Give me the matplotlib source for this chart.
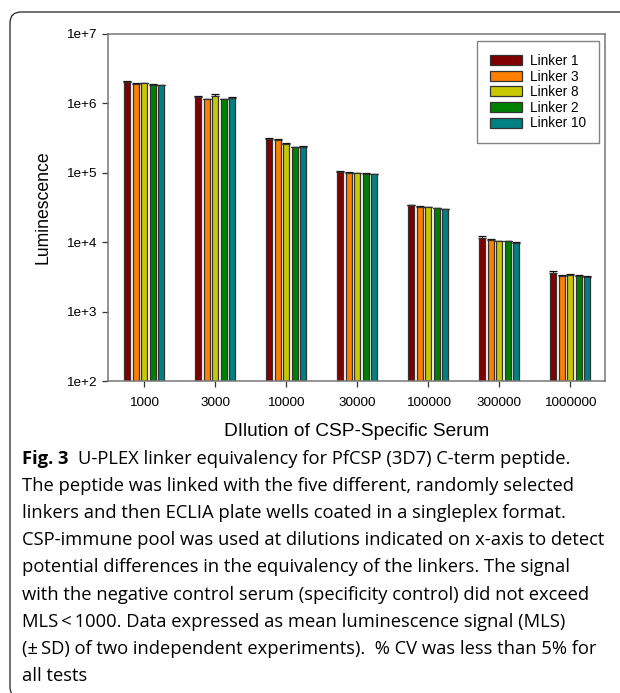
import matplotlib
matplotlib.use("Agg")
import matplotlib.pyplot as plt
import numpy as np
from matplotlib.patches import FancyBboxPatch

# ---------------- data ----------------
categories = ["1000", "3000", "10000", "30000", "100000", "300000", "1000000"]
series_names = ["Linker 1", "Linker 3", "Linker 8", "Linker 2", "Linker 10"]
linker1 = [2.03e6, 1.22e6, 3.06e5, 1.03e5, 3.41e4, 1.15e4, 3.6e3]
linker3 = [1.92e6, 1.14e6, 3.00e5, 1.00e5, 3.23e4, 1.09e4, 3.3e3]
linker8 = [1.95e6, 1.29e6, 2.60e5, 0.98e5, 3.17e4, 1.03e4, 3.4e3]
linker2 = [1.86e6, 1.14e6, 2.32e5, 0.97e5, 3.07e4, 1.03e4, 3.3e3]
linker10 = [1.82e6, 1.21e6, 2.37e5, 0.95e5, 3.00e4, 0.99e4, 3.2e3]
sd1 = [0.05e6, 0.04e6, 0.08e5, 0.02e5, 0.06e4, 0.06e4, 0.25e3]
sd3 = [0.04e6, 0.02e6, 0.08e5, 0.02e5, 0.04e4, 0.03e4, 0.10e3]
sd8 = [0.04e6, 0.07e6, 0.06e5, 0.02e5, 0.03e4, 0.02e4, 0.10e3]
sd2 = [0.03e6, 0.02e6, 0.04e5, 0.02e5, 0.03e4, 0.02e4, 0.08e3]
sd10 = [0.03e6, 0.03e6, 0.05e5, 0.02e5, 0.03e4, 0.02e4, 0.08e3]
ytick_vals = [1e2, 1e3, 1e4, 1e5, 1e6, 1e7]
ytick_labels = ["1e+2", "1e+3", "1e+4", "1e+5", "1e+6", "1e+7"]
xlabel = "DIlution of CSP-Specific Serum"
ylabel = "Luminescence"
caption_bold = "Fig. 3"
caption_lines = [
    "U-PLEX linker equivalency for PfCSP (3D7) C-term peptide.",
    "The peptide was linked with the five different, randomly selected",
    "linkers and then ECLIA plate wells coated in a singleplex format.",
    "CSP-immune pool was used at dilutions indicated on x-axis to detect",
    "potential differences in the equivalency of the linkers. The signal",
    "with the negative control serum (specificity control) did not exceed",
    "MLS\u2009<\u20091000. Data expressed as mean luminescence signal (MLS)",
    "(\u00b1\u2009SD) of two independent experiments).  % CV was less than 5% for",
    "all tests",
]

colors = ["#800000", "#FF8000", "#C8C800", "#008000", "#008080"]
values = [linker1, linker3, linker8, linker2, linker10]
sds = [sd1, sd3, sd8, sd2, sd10]

W, H = 620, 693
fig = plt.figure(figsize=(W / 100, H / 100), dpi=100)
plt.rcParams['font.family'] = ['Liberation Sans', 'DejaVu Sans']

# frame with rounded corners (partially outside the canvas on right/bottom)
frame = FancyBboxPatch((0.10, -0.05), 7.0, 6.81 + 0.05,
                       boxstyle="round,pad=0,rounding_size=0.11",
                       transform=fig.dpi_scale_trans, facecolor="none",
                       edgecolor="#222222", linewidth=0.9, clip_on=False)
fig.patches.append(frame)

ax = fig.add_axes([108 / W, 1 - 381 / H, 497 / W, 347 / H])
x = np.arange(len(categories))
bw = 0.083
step = 0.12
for i, (vals, sd, c, name) in enumerate(zip(values, sds, colors, series_names)):
    pos = x + (i - 2) * step
    ax.errorbar(pos, vals, yerr=[np.zeros(len(sd)), sd], fmt="none",
                ecolor="#111111", elinewidth=0.8, capsize=3.0, capthick=0.9,
                zorder=1)
    ax.bar(pos, vals, width=bw, color=c, edgecolor="#333333", linewidth=0.9,
           label=name, zorder=2)

ax.set_yscale("log")
ax.set_ylim(1e2, 1e7)
ax.set_xlim(-0.51, 6.49)
ax.set_yticks(ytick_vals)
ax.set_yticklabels(ytick_labels)
ax.yaxis.set_minor_locator(matplotlib.ticker.NullLocator())
ax.set_xticks(x)
ax.set_xticklabels(categories)
ax.tick_params(axis="both", direction="out", length=4.5, width=0.9,
               color="#333333", labelsize=9.7, pad=4)
ax.tick_params(axis="x", pad=7)
for s in ax.spines.values():
    s.set_color("#777777")
    s.set_linewidth(1.1)

ax.set_ylabel(ylabel, fontsize=12.7, labelpad=10)
ax.set_xlabel(xlabel, fontsize=13.8, labelpad=10)

leg = ax.legend(loc="upper right", bbox_to_anchor=(599 / W, 1 - 41 / H),
                bbox_transform=fig.transFigure, fontsize=9.8,
                frameon=True, fancybox=False, handlelength=2.35,
                handleheight=0.75, labelspacing=0.12, borderpad=0.95,
                handletextpad=0.6, borderaxespad=0)
leg.get_frame().set_edgecolor("#666666")
leg.get_frame().set_linewidth(1.0)

# caption
cap_font = ['Open Sans', 'DejaVu Sans']
y0 = 459
lh = 27.1
x0 = 22 / W
# fit the caption font size so the widest line spans the caption width
fig.canvas.draw()
r = fig.canvas.get_renderer()
probe = fig.text(0, 0, caption_lines[3], fontsize=10, family=cap_font)
pw = probe.get_window_extent(r).width
probe.remove()
cap_size = 10 * (606 - 22) / pw

tb = fig.text(x0, 1 - y0 / H, caption_bold, fontsize=cap_size, family=cap_font,
              fontweight="bold", va="center", ha="left")
bb = tb.get_window_extent(r)
fig.text((bb.x1 + 10) / W, 1 - y0 / H, caption_lines[0], fontsize=cap_size,
         family=cap_font, va="center", ha="left")
for k, line in enumerate(caption_lines[1:], start=1):
    fig.text(x0, 1 - (y0 + k * lh) / H, line, fontsize=cap_size,
             family=cap_font, va="center", ha="left")

fig.savefig("out.png", dpi=100)
